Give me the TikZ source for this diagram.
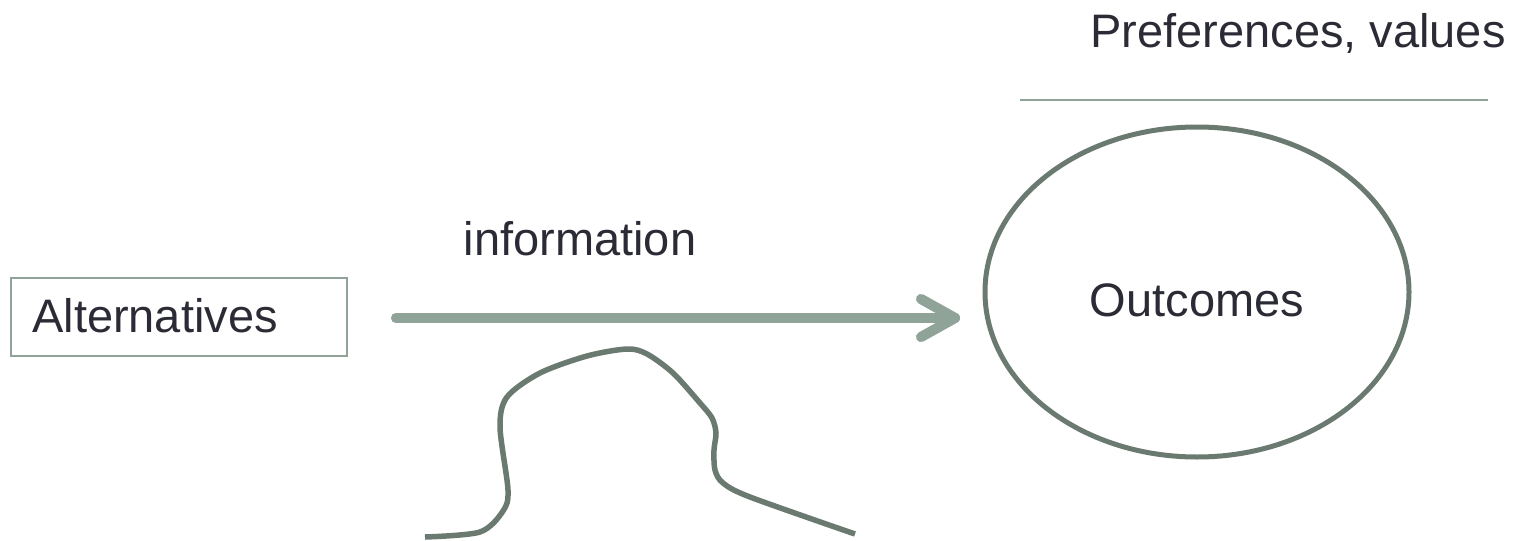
\documentclass[tikz,border=0pt]{standalone}
\usepackage{fontspec}
\setmainfont{Liberation Sans}
\usetikzlibrary{shapes.geometric}
\definecolor{sage}{HTML}{8FA398}
\definecolor{darksage}{HTML}{6B7A70}
\definecolor{ink}{HTML}{2B2B36}
\begin{document}
\begin{tikzpicture}[x=1pt,y=-1pt,
  txt/.style={font=\fontsize{47}{56}\selectfont, text=ink, inner sep=0pt},
  boxnode/.style={draw=sage, line width=1.5pt, minimum width=336pt, minimum height=78pt, inner sep=0pt},
  ovalnode/.style={draw=darksage, line width=5pt, ellipse, minimum width=424pt, minimum height=330pt, inner sep=0pt},
  flowline/.style={draw=sage, line width=10pt, line cap=round, line join=round},
  flowshadow/.style={draw=black!55, opacity=0.35, line width=10pt, line cap=round, line join=round},
  wiggle/.style={draw=darksage, line width=5.5pt, line cap=butt},
  thinrule/.style={draw=sage, line width=2pt}
]
\useasboundingbox (0,0) rectangle (1519,541);
% Alternatives box
\node[boxnode] (alt) at (179,317) {};
\node[txt, anchor=base] (altt) at (155,332) {Alternatives};
% Outcomes ellipse
\node[ovalnode] (out) at (1197,292) {};
\node[txt, anchor=base] (outt) at (1197,316) {Outcomes};
% Preferences and rule
\node[txt, anchor=base] (pref) at (1298,47) {Preferences, values};
\coordinate (r1) at (1020,100);
\coordinate (r2) at (1488,100);
\draw[thinrule] (r1) -- (r2);
% information arrow
\node[txt, anchor=base] (info) at (580,255) {information};
\coordinate (a1) at (396,318);
\coordinate (a2) at (955,318);
\coordinate (h1) at (921,299);
\coordinate (h2) at (921,337);
\begin{scope}[shift={(2,4)}]
\draw[flowshadow] (a1) -- (a2);
\draw[flowshadow] (h1) -- (a2) -- (h2);
\end{scope}
\draw[flowline] (a1) -- (a2);
\draw[flowline] (h1) -- (a2) -- (h2);
% wiggle curve
\draw[wiggle] plot[smooth, tension=0.5] coordinates {
 (425,537) (480,532) (503,511) (508,490) (500,427) (507,397) (540,373)
 (587,356) (627,349) (647,354) (673,373) (700,403) (712,418) (716,433)
 (714,450) (715,470) (723,483) (750,497) (855,534)};
\end{tikzpicture}
\end{document}
